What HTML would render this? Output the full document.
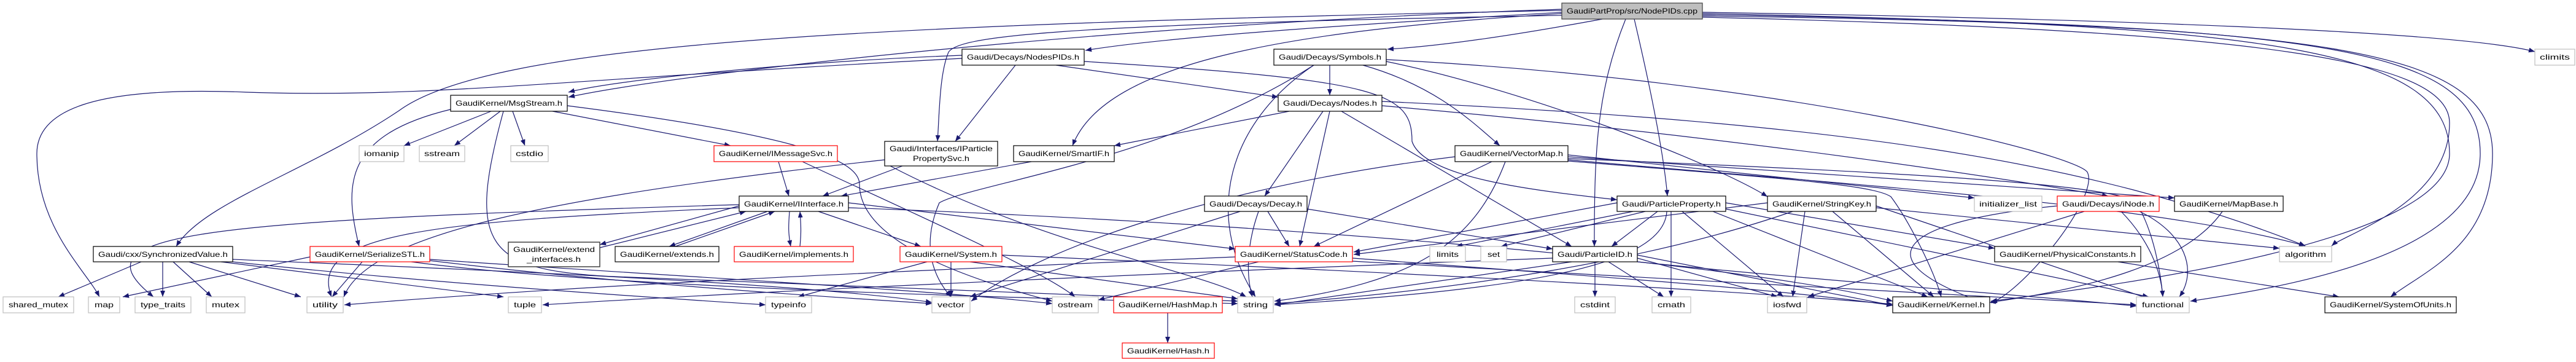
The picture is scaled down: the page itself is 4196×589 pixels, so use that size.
<!DOCTYPE html>
<html><head><meta charset="utf-8"><style>
html,body{margin:0;padding:0;background:#fff;}
svg{display:block;}
text{font-family:"Liberation Sans",sans-serif;font-size:12px;fill:#000;}
.e{fill:none;stroke:#191970;stroke-width:1.2;marker-end:url(#a);}
.n{fill:#fff;stroke:#000;stroke-width:1.2;}
.g{fill:#fff;stroke:#bfbfbf;stroke-width:1.2;}
.r{fill:#fff;stroke:#ff0000;stroke-width:1.2;}
</style></head><body>
<svg width="4196" height="589" viewBox="0 0 4196 589" xmlns="http://www.w3.org/2000/svg">
<defs><marker id="a" markerUnits="userSpaceOnUse" markerWidth="10" markerHeight="8" refX="10" refY="4" orient="auto"><path d="M0,0 L10,4 L0,8 z" fill="#191970"/></marker></defs>
<g>
<path class="e" d="M2544,20 C2200,40 1900,60 1768,82"/>
<path class="e" d="M2610,31 C2480,55 2350,75 2260,80"/>
<path class="e" d="M2544,25 C1700,40 1560,60 1545,85 C1530,120 1530,190 1527,230"/>
<path class="e" d="M2544,22 C2100,50 1800,100 1747,237"/>
<path class="e" d="M2544,15 C1800,40 1100,120 926,158"/>
<path class="e" d="M2544,17 C1400,40 800,70 650,180 C500,280 330,330 287,401"/>
<path class="e" d="M2648,31 C2600,150 2597,250 2597,401"/>
<path class="e" d="M2662,31 C2690,150 2710,250 2716,319"/>
<path class="e" d="M2773,20 C3400,30 4000,50 4129,84"/>
<path class="e" d="M2773,22 C3700,40 3990,80 3990,250 C3990,400 3400,470 3243,490"/>
<path class="e" d="M2773,24 C3800,40 4040,80 4040,250 C4040,420 3700,470 3568,490"/>
<path class="e" d="M2773,26 C3800,40 4060,80 4060,250 C4060,400 3950,440 3894,483"/>
<path class="e" d="M2773,28 C3700,50 3990,100 3990,200 C3990,330 3820,380 3798,400"/>
<path class="e" d="M1720,106 L2082,158"/>
<path class="e" d="M1654,106 L1556,230"/>
<path class="e" d="M1567,90 C1300,100 1000,130 926,150"/>
<path class="e" d="M1766,100 C2250,130 2300,150 2300,230 C2320,290 2500,310 2634,325"/>
<path class="e" d="M1567,95 C900,130 700,160 400,150 C150,140 60,180 60,250 C60,370 140,440 162,483"/>
<path class="e" d="M2166,106 L2166,155"/>
<path class="e" d="M2220,106 C2340,140 2400,200 2443,237"/>
<path class="e" d="M2140,106 C2000,200 1960,350 2045,483"/>
<path class="e" d="M2140,106 C1900,260 1580,300 1530,330 C1500,400 1520,450 1549,483"/>
<path class="e" d="M2258,97 C2900,130 3380,250 3400,280 C3420,320 3300,470 3243,493"/>
<path class="e" d="M2258,100 C2500,150 2800,270 2879,320"/>
<path class="e" d="M2100,181 L1815,237"/>
<path class="e" d="M2155,181 L2060,319"/>
<path class="e" d="M2166,181 L2117,401"/>
<path class="e" d="M2185,181 L2560,401"/>
<path class="e" d="M2251,172 C2800,220 3200,280 3434,319"/>
<path class="e" d="M2251,165 C3000,200 3400,260 3755,400"/>
<path class="e" d="M800,181 L658,237"/>
<path class="e" d="M815,181 L740,237"/>
<path class="e" d="M835,181 L855,237"/>
<path class="e" d="M900,181 L1190,237"/>
<path class="e" d="M734,178 C560,220 560,300 585,401"/>
<path class="e" d="M820,181 C760,400 790,440 1000,450 C1500,470 1800,480 2016,490"/>
<path class="e" d="M924,172 C1300,220 1400,260 1400,300 C1400,400 1600,460 1714,490"/>
<path class="e" d="M1268,263 L1285,319"/>
<path class="e" d="M1307,263 C1450,330 1700,440 1751,483"/>
<path class="e" d="M1470,270 L1340,319"/>
<path class="e" d="M1450,270 C1700,400 1950,440 2030,483"/>
<path class="e" d="M1441,260 C900,320 600,380 560,483"/>
<path class="e" d="M1680,263 L1370,319"/>
<path class="e" d="M1204,335 L977,398"/>
<path class="e" d="M1250,344 L1090,401"/>
<path class="e" d="M1286,344 C1284,370 1284,380 1288,401"/>
<path class="e" d="M1303,401 C1305,380 1305,370 1303,344"/>
<path class="e" d="M977,403 L1215,344"/>
<path class="e" d="M1100,401 L1262,344"/>
<path class="e" d="M1333,344 L1500,401"/>
<path class="e" d="M1382,330 L2012,405"/>
<path class="e" d="M1382,338 C2000,360 2800,420 3083,490"/>
<path class="e" d="M1204,333 C300,360 120,380 250,483"/>
<path class="e" d="M1204,338 C700,360 500,380 540,483"/>
<path class="e" d="M230,426 L95,483"/>
<path class="e" d="M265,426 L265,483"/>
<path class="e" d="M282,426 L345,483"/>
<path class="e" d="M308,426 L490,483"/>
<path class="e" d="M360,426 L820,483"/>
<path class="e" d="M379,426 C700,460 1000,480 1247,496"/>
<path class="e" d="M379,422 C800,440 1300,460 1518,492"/>
<path class="e" d="M505,418 L200,483"/>
<path class="e" d="M590,426 L541,483"/>
<path class="e" d="M700,424 C1000,460 1300,480 1518,494"/>
<path class="e" d="M700,422 C1100,450 1500,470 1714,494"/>
<path class="e" d="M670,426 C1000,470 1700,485 2016,494"/>
<path class="e" d="M1549,426 L1549,483"/>
<path class="e" d="M1510,426 L1300,483"/>
<path class="e" d="M1580,426 L2016,486"/>
<path class="e" d="M1632,415 C2200,440 2800,470 3083,495"/>
<path class="e" d="M2050,426 L1789,488"/>
<path class="e" d="M2012,418 C1500,440 1000,460 561,496"/>
<path class="e" d="M2203,420 C2600,450 2900,470 3083,497"/>
<path class="e" d="M2203,425 C2800,460 3200,480 3480,496"/>
<path class="e" d="M2065,344 L2100,401"/>
<path class="e" d="M2050,344 C2030,400 2030,450 2040,483"/>
<path class="e" d="M2020,344 L1580,483"/>
<path class="e" d="M2129,340 L2529,405"/>
<path class="e" d="M2430,263 L2140,401"/>
<path class="e" d="M2452,263 C2400,400 2300,460 2076,490"/>
<path class="e" d="M2370,255 C2000,300 1700,400 1582,490"/>
<path class="e" d="M2554,252 L3216,322"/>
<path class="e" d="M2554,255 L3542,322"/>
<path class="e" d="M2554,258 C3100,280 3450,300 3480,330 C3510,380 3520,450 3523,483"/>
<path class="e" d="M2554,260 C3000,300 3500,330 3755,400"/>
<path class="e" d="M2554,262 C2900,290 3050,300 3080,320 C3110,360 3150,440 3162,483"/>
<path class="e" d="M2634,330 L2205,410"/>
<path class="e" d="M2660,344 L2372,401"/>
<path class="e" d="M2680,344 L2445,401"/>
<path class="e" d="M2700,344 L2625,401"/>
<path class="e" d="M2722,344 L2722,483"/>
<path class="e" d="M2740,344 L2905,483"/>
<path class="e" d="M2790,344 L3140,483"/>
<path class="e" d="M2811,340 L3500,483"/>
<path class="e" d="M2811,330 L3249,404"/>
<path class="e" d="M2715,344 C2710,430 2500,470 2076,496"/>
<path class="e" d="M2598,426 L2598,483"/>
<path class="e" d="M2620,426 L2710,483"/>
<path class="e" d="M2667,420 L2895,483"/>
<path class="e" d="M2560,426 L2076,496"/>
<path class="e" d="M2667,415 L3083,497"/>
<path class="e" d="M2529,420 C2000,440 1300,470 884,496"/>
<path class="e" d="M2667,426 C3000,460 3300,480 3480,498"/>
<path class="e" d="M2879,330 L2205,414"/>
<path class="e" d="M2940,344 L2920,483"/>
<path class="e" d="M2985,344 L3150,483"/>
<path class="e" d="M3056,338 L3713,404"/>
<path class="e" d="M3056,335 L3500,486"/>
<path class="e" d="M2920,344 C2700,420 2400,470 2076,494"/>
<path class="e" d="M3395,344 L2945,483"/>
<path class="e" d="M3351,335 C3100,360 3020,420 3241,496"/>
<path class="e" d="M3455,344 C3500,390 3520,440 3523,483"/>
<path class="e" d="M3485,344 C3560,380 3580,440 3550,483"/>
<path class="e" d="M3620,344 C3560,430 3400,470 3241,492"/>
<path class="e" d="M3450,426 L3810,483"/>
<path class="e" d="M1902,509 L1902,558"/>
</g>
<g>
<rect x="2544" y="5" width="229" height="26" fill="#bfbfbf" stroke="#404040" stroke-width="1.2"/>
<text x="2552" y="22" textLength="213" lengthAdjust="spacingAndGlyphs">GaudiPartProp/src/NodePIDs.cpp</text>
<rect class="n" x="1567" y="80" width="199" height="26"/><text x="1575" y="97" textLength="183" lengthAdjust="spacingAndGlyphs">Gaudi/Decays/NodesPIDs.h</text>
<rect class="n" x="2075" y="80" width="183" height="26"/><text x="2083" y="97" textLength="167" lengthAdjust="spacingAndGlyphs">Gaudi/Decays/Symbols.h</text>
<rect class="g" x="4129" y="80" width="65" height="26"/><text x="4137" y="97" textLength="49" lengthAdjust="spacingAndGlyphs">climits</text>
<rect class="n" x="734" y="155" width="190" height="26"/><text x="742" y="172" textLength="174" lengthAdjust="spacingAndGlyphs">GaudiKernel/MsgStream.h</text>
<rect class="n" x="2082" y="155" width="169" height="26"/><text x="2090" y="172" textLength="153" lengthAdjust="spacingAndGlyphs">Gaudi/Decays/Nodes.h</text>
<rect class="g" x="585" y="237" width="73" height="26"/><text x="593" y="254" textLength="57" lengthAdjust="spacingAndGlyphs">iomanip</text>
<rect class="g" x="683" y="237" width="74" height="26"/><text x="691" y="254" textLength="58" lengthAdjust="spacingAndGlyphs">sstream</text>
<rect class="g" x="832" y="237" width="61" height="26"/><text x="840" y="254" textLength="45" lengthAdjust="spacingAndGlyphs">cstdio</text>
<rect class="r" x="1163" y="237" width="201" height="26"/><text x="1171" y="254" textLength="185" lengthAdjust="spacingAndGlyphs">GaudiKernel/IMessageSvc.h</text>
<rect class="n" x="1441" y="230" width="184" height="40"/><text x="1449" y="246" textLength="168" lengthAdjust="spacingAndGlyphs">Gaudi/Interfaces/IParticle</text><text x="1487" y="262" textLength="92" lengthAdjust="spacingAndGlyphs">PropertySvc.h</text>
<rect class="n" x="1651" y="237" width="164" height="26"/><text x="1659" y="254" textLength="148" lengthAdjust="spacingAndGlyphs">GaudiKernel/SmartIF.h</text>
<rect class="n" x="2370" y="237" width="184" height="26"/><text x="2378" y="254" textLength="168" lengthAdjust="spacingAndGlyphs">GaudiKernel/VectorMap.h</text>
<rect class="n" x="1204" y="319" width="178" height="25"/><text x="1212" y="336" textLength="162" lengthAdjust="spacingAndGlyphs">GaudiKernel/IInterface.h</text>
<rect class="n" x="1962" y="319" width="167" height="25"/><text x="1970" y="336" textLength="151" lengthAdjust="spacingAndGlyphs">Gaudi/Decays/Decay.h</text>
<rect class="n" x="2634" y="319" width="177" height="25"/><text x="2642" y="336" textLength="161" lengthAdjust="spacingAndGlyphs">Gaudi/ParticleProperty.h</text>
<rect class="n" x="2879" y="319" width="177" height="25"/><text x="2887" y="336" textLength="161" lengthAdjust="spacingAndGlyphs">GaudiKernel/StringKey.h</text>
<rect class="g" x="3216" y="319" width="110" height="25"/><text x="3224" y="336" textLength="94" lengthAdjust="spacingAndGlyphs">initializer_list</text>
<rect class="r" x="3351" y="319" width="166" height="25"/><text x="3359" y="336" textLength="150" lengthAdjust="spacingAndGlyphs">Gaudi/Decays/iNode.h</text>
<rect class="n" x="3542" y="319" width="177" height="25"/><text x="3550" y="336" textLength="161" lengthAdjust="spacingAndGlyphs">GaudiKernel/MapBase.h</text>
<rect class="n" x="152" y="401" width="227" height="25"/><text x="160" y="418" textLength="211" lengthAdjust="spacingAndGlyphs">Gaudi/cxx/SynchronizedValue.h</text>
<rect class="r" x="505" y="401" width="195" height="25"/><text x="513" y="418" textLength="179" lengthAdjust="spacingAndGlyphs">GaudiKernel/SerializeSTL.h</text>
<rect x="828" y="394" width="149" height="40" fill="#fff" stroke="#404040" stroke-width="1.5"/><text x="836" y="410" textLength="133" lengthAdjust="spacingAndGlyphs">GaudiKernel/extend</text><text x="858" y="426" textLength="88" lengthAdjust="spacingAndGlyphs">_interfaces.h</text>
<rect class="n" x="1002" y="401" width="169" height="25"/><text x="1010" y="418" textLength="153" lengthAdjust="spacingAndGlyphs">GaudiKernel/extends.h</text>
<rect class="r" x="1196" y="401" width="194" height="25"/><text x="1204" y="418" textLength="178" lengthAdjust="spacingAndGlyphs">GaudiKernel/implements.h</text>
<rect class="r" x="1466" y="401" width="166" height="25"/><text x="1474" y="418" textLength="150" lengthAdjust="spacingAndGlyphs">GaudiKernel/System.h</text>
<rect class="r" x="2012" y="401" width="191" height="25"/><text x="2020" y="418" textLength="175" lengthAdjust="spacingAndGlyphs">GaudiKernel/StatusCode.h</text>
<rect class="g" x="2329" y="401" width="58" height="25"/><text x="2340" y="418" textLength="36" lengthAdjust="spacingAndGlyphs">limits</text>
<rect class="g" x="2412" y="401" width="42" height="25"/><text x="2423" y="418" textLength="20" lengthAdjust="spacingAndGlyphs">set</text>
<rect class="n" x="2529" y="401" width="138" height="25"/><text x="2537" y="418" textLength="122" lengthAdjust="spacingAndGlyphs">Gaudi/ParticleID.h</text>
<rect class="n" x="3249" y="401" width="238" height="25"/><text x="3257" y="418" textLength="222" lengthAdjust="spacingAndGlyphs">GaudiKernel/PhysicalConstants.h</text>
<rect class="g" x="3713" y="401" width="85" height="25"/><text x="3722" y="418" textLength="67" lengthAdjust="spacingAndGlyphs">algorithm</text>
<rect class="g" x="5" y="483" width="115" height="26"/><text x="14" y="500" textLength="97" lengthAdjust="spacingAndGlyphs">shared_mutex</text>
<rect class="g" x="144" y="483" width="51" height="26"/><text x="154" y="500" textLength="31" lengthAdjust="spacingAndGlyphs">map</text>
<rect class="g" x="220" y="483" width="91" height="26"/><text x="229" y="500" textLength="73" lengthAdjust="spacingAndGlyphs">type_traits</text>
<rect class="g" x="336" y="483" width="63" height="26"/><text x="345" y="500" textLength="45" lengthAdjust="spacingAndGlyphs">mutex</text>
<rect class="g" x="500" y="483" width="59" height="26"/><text x="509" y="500" textLength="41" lengthAdjust="spacingAndGlyphs">utility</text>
<rect class="g" x="828" y="483" width="54" height="26"/><text x="837" y="500" textLength="36" lengthAdjust="spacingAndGlyphs">tuple</text>
<rect class="g" x="1247" y="483" width="75" height="26"/><text x="1256" y="500" textLength="57" lengthAdjust="spacingAndGlyphs">typeinfo</text>
<rect class="g" x="1518" y="483" width="62" height="26"/><text x="1527" y="500" textLength="44" lengthAdjust="spacingAndGlyphs">vector</text>
<rect class="g" x="1714" y="483" width="75" height="26"/><text x="1723" y="500" textLength="57" lengthAdjust="spacingAndGlyphs">ostream</text>
<rect class="r" x="1814" y="483" width="177" height="26"/><text x="1822" y="500" textLength="161" lengthAdjust="spacingAndGlyphs">GaudiKernel/HashMap.h</text>
<rect class="g" x="2016" y="483" width="58" height="26"/><text x="2025" y="500" textLength="40" lengthAdjust="spacingAndGlyphs">string</text>
<rect class="g" x="2565" y="483" width="66" height="26"/><text x="2574" y="500" textLength="48" lengthAdjust="spacingAndGlyphs">cstdint</text>
<rect class="g" x="2691" y="483" width="63" height="26"/><text x="2700" y="500" textLength="45" lengthAdjust="spacingAndGlyphs">cmath</text>
<rect class="g" x="2879" y="483" width="64" height="26"/><text x="2888" y="500" textLength="46" lengthAdjust="spacingAndGlyphs">iosfwd</text>
<rect class="n" x="3083" y="483" width="158" height="26"/><text x="3091" y="500" textLength="142" lengthAdjust="spacingAndGlyphs">GaudiKernel/Kernel.h</text>
<rect class="g" x="3480" y="483" width="86" height="26"/><text x="3489" y="500" textLength="68" lengthAdjust="spacingAndGlyphs">functional</text>
<rect class="n" x="3787" y="483" width="214" height="26"/><text x="3795" y="500" textLength="198" lengthAdjust="spacingAndGlyphs">GaudiKernel/SystemOfUnits.h</text>
<rect class="r" x="1828" y="558" width="150" height="25"/><text x="1836" y="575" textLength="134" lengthAdjust="spacingAndGlyphs">GaudiKernel/Hash.h</text>
</g>
</svg>
</body></html>
